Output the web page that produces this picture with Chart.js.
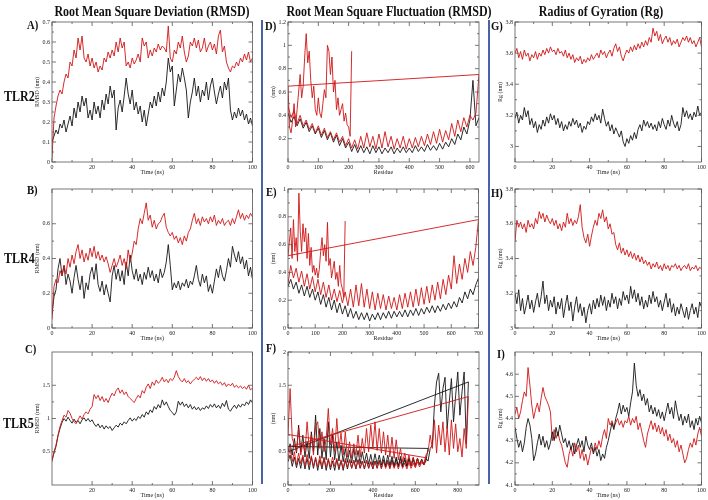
<!DOCTYPE html>
<html>
<head>
<meta charset="utf-8">
<script src="https://cdn.jsdelivr.net/npm/chart.js@4.4.0/dist/chart.umd.min.js"></script>
<style>
  body { margin: 0; width: 708px; height: 500px; background: #fff; position: relative; overflow: hidden; font-family: "Liberation Serif", serif; }
  canvas { position: absolute; }
  .lbl { position: absolute; font-weight: bold; color: #111; white-space: nowrap; line-height: 1; transform-origin: 0 0; z-index: 2; }
  .head { font-size: 15px; transform: translateX(-50%) scaleX(0.8); transform-origin: 50% 0; }
  .row { font-size: 15px; transform: scaleX(0.8); }
  .tag { font-size: 13px; transform: scaleX(0.82); }
  .sep { position: absolute; width: 2px; background: #4c62a8; top: 20px; height: 464px; }
</style>
</head>
<body>
<div class="lbl head" style="left:152px;top:4px">Root Mean Square Deviation (RMSD)</div>
<div class="lbl head" style="left:389px;top:4px">Root Mean Square Fluctuation (RMSD)</div>
<div class="lbl head" style="left:601px;top:4px">Radius of Gyration (Rg)</div>
<div class="lbl row" style="left:4px;top:89px">TLR2</div>
<div class="lbl row" style="left:4px;top:251px">TLR4</div>
<div class="lbl row" style="left:3px;top:416px">TLR5</div>
<div class="lbl tag" style="left:27px;top:18px">A)</div>
<div class="lbl tag" style="left:27px;top:183px">B)</div>
<div class="lbl tag" style="left:25px;top:342px">C)</div>
<div class="lbl tag" style="left:265px;top:19px">D)</div>
<div class="lbl tag" style="left:266px;top:185px">E)</div>
<div class="lbl tag" style="left:266px;top:341px">F)</div>
<div class="lbl tag" style="left:491px;top:19px">G)</div>
<div class="lbl tag" style="left:491px;top:186px">H)</div>
<div class="lbl tag" style="left:497px;top:347px">I)</div>
<div class="sep" style="left:261px"></div>
<div class="sep" style="left:488px"></div>
<script>
const timeNs = [0,1,2,3,4,5,6,7,8,9,10,11,12,13,14,15,16,17,18,19,20,21,22,23,24,25,26,27,28,29,30,31,32,33,34,35,36,37,38,39,40,41,42,43,44,45,46,47,48,49,50,51,52,53,54,55,56,57,58,59,60,61,62,63,64,65,66,67,68,69,70,71,72,73,74,75,76,77,78,79,80,81,82,83,84,85,86,87,88,89,90,91,92,93,94,95,96,97,98,99,100];

// RMSD (nm)
const rmsdTlr2Red = [
  0.02,0.22,0.28,0.33,0.36,0.34,0.40,0.44,0.42,0.50,
  0.48,0.56,0.52,0.62,0.56,0.63,0.52,0.50,0.54,0.48,
  0.52,0.47,0.50,0.45,0.48,0.46,0.52,0.50,0.55,0.52,
  0.56,0.53,0.60,0.55,0.62,0.57,0.60,0.48,0.50,0.47,
  0.52,0.49,0.51,0.54,0.50,0.62,0.58,0.60,0.52,0.56,
  0.53,0.57,0.55,0.59,0.56,0.58,0.57,0.55,0.68,0.52,
  0.50,0.56,0.54,0.60,0.57,0.63,0.55,0.50,0.53,0.60,
  0.58,0.62,0.57,0.61,0.55,0.57,0.62,0.55,0.58,0.60,
  0.56,0.59,0.54,0.63,0.66,0.55,0.58,0.50,0.47,0.45,
  0.48,0.47,0.50,0.48,0.52,0.50,0.54,0.51,0.55,0.50,0.52];
const rmsdTlr2Black = [
  0.10,0.13,0.16,0.14,0.19,0.17,0.21,0.15,0.19,0.23,
  0.18,0.27,0.22,0.30,0.25,0.33,0.28,0.32,0.22,0.26,
  0.21,0.30,0.24,0.28,0.22,0.31,0.26,0.34,0.29,0.38,
  0.32,0.36,0.16,0.27,0.31,0.25,0.33,0.42,0.34,0.29,
  0.36,0.26,0.30,0.24,0.28,0.20,0.26,0.18,0.24,0.30,
  0.27,0.33,0.28,0.35,0.30,0.37,0.33,0.40,0.52,0.45,
  0.48,0.28,0.36,0.44,0.40,0.47,0.42,0.36,0.22,0.30,
  0.35,0.42,0.33,0.38,0.30,0.36,0.33,0.40,0.31,0.38,
  0.42,0.35,0.29,0.34,0.38,0.32,0.40,0.36,0.42,0.26,
  0.21,0.25,0.22,0.27,0.23,0.26,0.21,0.24,0.19,0.22,0.18];
const rmsdTlr4Red = [
  0.05,0.24,0.28,0.26,0.33,0.30,0.36,0.31,0.40,0.35,
  0.42,0.37,0.44,0.48,0.40,0.45,0.38,0.43,0.39,0.46,
  0.41,0.47,0.40,0.44,0.39,0.42,0.38,0.41,0.37,0.32,
  0.36,0.40,0.35,0.38,0.42,0.36,0.40,0.34,0.45,0.38,
  0.43,0.50,0.48,0.57,0.63,0.60,0.66,0.72,0.62,0.65,
  0.58,0.62,0.57,0.60,0.61,0.64,0.66,0.58,0.55,0.53,
  0.55,0.51,0.53,0.49,0.52,0.48,0.53,0.50,0.55,0.57,
  0.62,0.66,0.60,0.63,0.59,0.64,0.61,0.63,0.60,0.64,
  0.61,0.65,0.59,0.62,0.60,0.63,0.59,0.61,0.62,0.59,
  0.63,0.60,0.64,0.68,0.63,0.66,0.62,0.65,0.63,0.66,0.64];
const rmsdTlr4Black = [
  0.08,0.18,0.22,0.34,0.40,0.30,0.36,0.25,0.31,0.27,
  0.20,0.29,0.36,0.28,0.22,0.30,0.17,0.26,0.22,0.31,
  0.35,0.28,0.37,0.25,0.21,0.27,0.19,0.25,0.20,0.15,
  0.30,0.36,0.28,0.34,0.27,0.33,0.25,0.38,0.30,0.42,
  0.33,0.28,0.34,0.27,0.31,0.25,0.32,0.28,0.35,0.29,
  0.33,0.27,0.31,0.26,0.34,0.29,0.32,0.38,0.48,0.36,
  0.22,0.26,0.23,0.27,0.22,0.26,0.24,0.28,0.23,0.27,
  0.25,0.30,0.36,0.28,0.24,0.31,0.26,0.30,0.21,0.25,
  0.20,0.27,0.34,0.29,0.36,0.30,0.27,0.33,0.40,0.35,
  0.47,0.42,0.38,0.44,0.37,0.41,0.34,0.39,0.30,0.35,0.28];
const rmsdTlr5Red = [
  0.35,0.50,0.60,0.75,0.88,0.97,1.05,1.02,1.12,1.08,
  1.00,0.95,0.92,0.98,1.04,0.99,1.06,1.10,1.07,1.14,
  1.18,1.36,1.30,1.35,1.27,1.33,1.25,1.30,1.24,1.32,
  1.38,1.34,1.42,1.46,1.38,1.43,1.36,1.40,1.33,1.30,
  1.27,1.24,1.30,1.35,1.31,1.42,1.38,1.47,1.52,1.45,
  1.55,1.50,1.58,1.53,1.56,1.62,1.55,1.59,1.54,1.60,
  1.57,1.62,1.72,1.63,1.58,1.55,1.60,1.54,1.57,1.52,
  1.56,1.59,1.62,1.58,1.63,1.57,1.61,1.56,1.60,1.55,
  1.58,1.53,1.57,1.52,1.55,1.50,1.54,1.48,1.52,1.49,
  1.53,1.47,1.50,1.46,1.49,1.45,1.48,1.44,1.50,1.43,1.46];
const rmsdTlr5Black = [
  0.38,0.48,0.58,0.74,0.85,0.94,1.00,0.96,1.02,0.97,
  0.93,0.99,0.94,0.97,0.92,0.98,1.01,0.96,1.00,0.95,
  0.98,0.92,0.88,0.92,0.86,0.90,0.84,0.89,0.85,0.88,
  0.82,0.86,0.90,0.87,0.93,0.90,0.95,0.92,0.97,1.01,
  0.96,1.00,0.97,1.03,1.00,1.06,1.02,1.10,1.06,1.13,
  1.09,1.18,1.14,1.21,1.16,1.28,1.20,1.25,1.18,1.12,
  1.09,1.05,1.10,1.26,1.20,1.25,1.18,1.22,1.16,1.21,
  1.14,1.18,1.13,1.17,1.12,1.16,1.14,1.19,1.15,1.21,
  1.17,1.22,1.16,1.20,1.15,1.23,1.18,1.27,1.14,1.11,
  1.16,1.20,1.15,1.21,1.17,1.22,1.19,1.25,1.21,1.28,1.24];

// Rg (nm)
const rgTlr2Red = [
  3.60,3.63,3.57,3.61,3.56,3.62,3.58,3.60,3.55,3.59,
  3.57,3.61,3.56,3.60,3.58,3.62,3.59,3.63,3.60,3.64,
  3.61,3.62,3.59,3.63,3.60,3.61,3.58,3.62,3.57,3.60,
  3.56,3.59,3.54,3.57,3.55,3.58,3.53,3.56,3.54,3.57,
  3.55,3.59,3.56,3.58,3.60,3.57,3.62,3.59,3.61,3.57,
  3.60,3.62,3.58,3.63,3.66,3.61,3.64,3.58,3.55,3.59,
  3.62,3.60,3.64,3.61,3.65,3.62,3.66,3.63,3.67,3.64,
  3.68,3.65,3.70,3.67,3.76,3.71,3.74,3.68,3.72,3.66,
  3.69,3.71,3.67,3.70,3.65,3.68,3.66,3.69,3.64,3.67,
  3.70,3.68,3.71,3.67,3.70,3.66,3.68,3.64,3.67,3.70,3.64];
const rgTlr2Black = [
  3.18,3.22,3.15,3.20,3.17,3.25,3.19,3.23,3.14,3.18,
  3.12,3.16,3.09,3.14,3.11,3.17,3.13,3.19,3.15,3.21,
  3.17,3.20,3.14,3.18,3.12,3.16,3.10,3.14,3.11,3.16,
  3.13,3.18,3.14,3.17,3.12,3.15,3.09,3.13,3.11,3.16,
  3.14,3.19,3.16,3.21,3.17,3.20,3.15,3.24,3.18,3.13,
  3.16,3.10,3.14,3.08,3.12,3.09,3.06,3.10,3.03,3.00,
  3.05,3.02,3.07,3.04,3.09,3.05,3.11,3.14,3.10,3.17,
  3.13,3.16,3.12,3.15,3.11,3.14,3.10,3.16,3.12,3.18,
  3.14,3.11,3.17,3.13,3.20,3.15,3.12,3.16,3.10,3.14,
  3.25,3.19,3.23,3.18,3.21,3.17,3.22,3.19,3.26,3.20,3.22];
const rgTlr4Red = [
  3.50,3.62,3.58,3.61,3.57,3.60,3.55,3.62,3.58,3.60,
  3.57,3.63,3.60,3.67,3.63,3.66,3.61,3.65,3.62,3.60,
  3.63,3.59,3.62,3.57,3.60,3.56,3.61,3.58,3.66,3.60,
  3.63,3.59,3.62,3.60,3.64,3.71,3.58,3.52,3.49,3.54,
  3.47,3.53,3.58,3.62,3.59,3.66,3.63,3.68,3.61,3.64,
  3.57,3.60,3.54,3.55,3.48,3.45,3.49,3.43,3.46,3.42,
  3.45,3.41,3.44,3.40,3.43,3.39,3.42,3.38,3.41,3.37,
  3.39,3.36,3.38,3.34,3.37,3.35,3.38,3.34,3.36,3.33,
  3.37,3.34,3.36,3.33,3.36,3.35,3.37,3.34,3.36,3.33,
  3.35,3.36,3.34,3.37,3.33,3.35,3.34,3.36,3.33,3.35,3.34];
const rgTlr4Black = [
  3.20,3.14,3.22,3.10,3.17,3.08,3.13,3.19,3.11,3.16,
  3.09,3.15,3.20,3.12,3.18,3.27,3.14,3.19,3.10,3.16,
  3.12,3.18,3.08,3.15,3.11,3.17,3.06,3.13,3.19,3.10,
  3.15,3.04,3.12,3.18,3.09,3.14,3.07,3.12,3.03,3.10,
  3.14,3.08,3.16,3.11,3.17,3.12,3.19,3.13,3.18,3.10,
  3.16,3.12,3.20,3.14,3.18,3.11,3.17,3.13,3.21,3.16,
  3.19,3.14,3.24,3.17,3.22,3.15,3.20,3.13,3.18,3.11,
  3.16,3.12,3.19,3.14,3.21,3.15,3.18,3.12,3.16,3.10,
  3.15,3.20,3.12,3.17,3.09,3.14,3.07,3.12,3.08,3.14,
  3.10,3.06,3.12,3.05,3.10,3.14,3.08,3.12,3.06,3.15,3.12];
const rgTlr5Red = [
  4.42,4.45,4.40,4.43,4.48,4.52,4.50,4.63,4.55,4.46,
  4.40,4.44,4.47,4.43,4.49,4.54,4.50,4.48,4.46,4.43,
  4.30,4.35,4.31,4.34,4.30,4.28,4.24,4.20,4.18,4.24,
  4.27,4.23,4.29,4.25,4.28,4.22,4.26,4.21,4.24,4.19,
  4.23,4.27,4.25,4.29,4.26,4.30,4.27,4.32,4.35,4.31,
  4.40,4.37,4.39,4.36,4.38,4.40,4.37,4.39,4.36,4.39,
  4.38,4.41,4.37,4.40,4.38,4.41,4.35,4.38,4.34,4.30,
  4.27,4.33,4.36,4.39,4.35,4.38,4.34,4.37,4.33,4.36,
  4.32,4.35,4.30,4.33,4.29,4.31,4.27,4.30,4.25,4.28,
  4.24,4.20,4.22,4.26,4.29,4.27,4.31,4.28,4.33,4.36,4.32];
const rgTlr5Black = [
  4.36,4.31,4.27,4.30,4.25,4.29,4.36,4.40,4.37,4.31,
  4.21,4.24,4.29,4.33,4.28,4.32,4.27,4.30,4.26,4.29,
  4.34,4.30,4.36,4.32,4.37,4.33,4.29,4.31,4.27,4.30,
  4.26,4.29,4.24,4.28,4.31,4.27,4.30,4.25,4.32,4.28,
  4.26,4.29,4.24,4.27,4.23,4.26,4.21,4.24,4.22,4.27,
  4.30,4.34,4.38,4.35,4.40,4.43,4.47,4.42,4.46,4.43,
  4.45,4.41,4.47,4.52,4.65,4.55,4.50,4.53,4.48,4.51,
  4.46,4.49,4.43,4.46,4.42,4.45,4.41,4.44,4.40,4.43,
  4.39,4.43,4.47,4.42,4.45,4.40,4.48,4.43,4.39,4.42,
  4.37,4.41,4.38,4.42,4.36,4.39,4.35,4.40,4.37,4.41,4.38];

// RMSF residues
const res0to630 = [0,10,20,30,40,50,60,70,80,90,100,110,120,130,140,150,160,170,180,190,200,210,220,230,240,250,260,270,280,290,300,310,320,330,340,350,360,370,380,390,400,410,420,430,440,450,460,470,480,490,500,510,520,530,540,550,560,570,580,590,600,610,620,630];
const res0to700 = [0,10,20,30,40,50,60,70,80,90,100,110,120,130,140,150,160,170,180,190,200,210,220,230,240,250,260,270,280,290,300,310,320,330,340,350,360,370,380,390,400,410,420,430,440,450,460,470,480,490,500,510,520,530,540,550,560,570,580,590,600,610,620,630,640,650,660,670,680,690,700];
const res0to850 = [0,10,20,30,40,50,60,70,80,90,100,110,120,130,140,150,160,170,180,190,200,210,220,230,240,250,260,270,280,290,300,310,320,330,340,350,360,370,380,390,400,410,420,430,440,450,460,470,480,490,500,510,520,530,540,550,560,570,580,590,600,610,620,630,640,650,660,670,680,690,700,710,720,730,740,750,760,770,780,790,800,810,820,830,840,850];
const res0to660 = [0,10,20,30,40,50,60,70,80,90,100,110,120,130,140,150,160,170,180,190,200,210,220,230,240,250,260,270,280,290,300,310,320,330,340,350,360,370,380,390,400,410,420,430,440,450,460,470,480,490,500,510,520,530,540,550,560,570,580,590,600,610,620,630,640,650,660];
const res0to650 = [0,10,20,30,40,50,60,70,80,90,100,110,120,130,140,150,160,170,180,190,200,210,220,230,240,250,260,270,280,290,300,310,320,330,340,350,360,370,380,390,400,410,420,430,440,450,460,470,480,490,500,510,520,530,540,550,560,570,580,590,600,610,620,630,640,650];
const res0to210 = [0,5,10,15,20,25,30,35,40,45,50,55,60,65,70,75,80,85,90,95,100,105,110,115,120,125,130,135,140,145,150,155,160,165,170,175,180,185,190,195,200,205,210];

// RMSF (nm)
const rmsfTlr2Black = [
  0.42,0.34,0.39,0.31,0.37,0.29,0.34,0.26,0.31,0.24,
  0.29,0.21,0.27,0.19,0.25,0.17,0.23,0.14,0.20,0.12,
  0.17,0.09,0.15,0.08,0.14,0.08,0.13,0.07,0.14,0.08,
  0.13,0.07,0.12,0.08,0.13,0.07,0.12,0.08,0.13,0.08,
  0.12,0.08,0.14,0.09,0.13,0.09,0.15,0.10,0.14,0.10,
  0.16,0.11,0.17,0.13,0.20,0.15,0.24,0.19,0.30,0.24,
  0.36,0.70,0.31,0.38];
const rmsfTlr2RedA = [
  0.48,0.38,0.44,0.33,0.40,0.31,0.36,0.28,0.33,0.25,
  0.31,0.23,0.29,0.21,0.26,0.19,0.25,0.17,0.22,0.14,
  0.20,0.12,0.19,0.11,0.22,0.12,0.25,0.13,0.22,0.11,
  0.24,0.12,0.26,0.13,0.22,0.11,0.20,0.12,0.22,0.11,
  0.20,0.12,0.21,0.13,0.22,0.14,0.24,0.15,0.26,0.16,
  0.28,0.17,0.27,0.19,0.33,0.22,0.36,0.26,0.38,0.30,
  0.40,0.36,0.42,0.75];
const rmsfTlr2RedB = [
  0.65,0.30,0.25,0.35,0.50,0.30,0.45,0.60,0.75,0.55,
  0.65,0.90,1.10,0.85,0.95,0.70,0.55,0.65,0.45,0.40,
  0.55,0.42,0.38,0.50,0.62,0.55,1.00,0.95,0.75,0.90,
  0.60,0.70,0.45,0.55,0.40,0.45,0.50,0.35,0.42,0.32,
  0.30,0.22,0.95];
const rmsfTlr4Black = [
  0.30,0.35,0.28,0.33,0.25,0.31,0.23,0.30,0.22,0.28,
  0.20,0.26,0.17,0.24,0.15,0.22,0.13,0.20,0.11,0.18,
  0.10,0.16,0.08,0.14,0.07,0.12,0.06,0.11,0.06,0.11,
  0.05,0.10,0.06,0.11,0.06,0.11,0.07,0.12,0.07,0.12,
  0.08,0.12,0.08,0.13,0.08,0.13,0.09,0.14,0.09,0.14,
  0.10,0.15,0.11,0.16,0.11,0.16,0.12,0.17,0.13,0.18,
  0.14,0.19,0.15,0.22,0.18,0.26,0.21,0.28,0.24,0.31,0.36];
const rmsfTlr4RedA = [
  0.32,0.45,0.36,0.43,0.33,0.41,0.30,0.39,0.28,0.37,
  0.26,0.35,0.24,0.33,0.22,0.31,0.20,0.28,0.19,0.27,
  0.18,0.26,0.16,0.28,0.15,0.31,0.16,0.32,0.15,0.28,
  0.14,0.26,0.13,0.25,0.14,0.24,0.13,0.23,0.14,0.22,
  0.13,0.24,0.14,0.25,0.15,0.26,0.15,0.28,0.16,0.29,
  0.17,0.30,0.18,0.31,0.20,0.33,0.21,0.35,0.24,0.38,
  0.28,0.52,0.32,0.46,0.35,0.50,0.40,0.55,0.45,0.58,0.78];
const rmsfTlr4RedB = [
  0.52,0.62,0.72,0.50,0.78,0.55,0.65,0.48,0.97,0.70,
  0.55,0.75,0.62,0.72,0.50,0.68,0.45,0.58,0.40,0.45,
  0.38,0.43,0.36,0.42,0.55,0.65,0.52,0.60,0.48,0.76,
  0.45,0.50,0.36,0.42,0.48,0.35,0.40,0.30,0.45,0.32,
  0.28,0.22,0.77];
const rmsfTlr5BlackA = [
  0.35,0.45,0.28,0.42,0.26,0.40,0.25,0.42,0.24,0.40,
  0.23,0.42,0.25,0.40,0.22,0.38,0.24,0.40,0.22,0.38,
  0.23,0.36,0.22,0.38,0.23,0.36,0.22,0.37,0.24,0.38,
  0.25,0.37,0.24,0.38,0.25,0.36,0.24,0.37,0.25,0.35,
  0.24,0.36,0.25,0.37,0.26,0.38,0.27,0.37,0.26,0.38,
  0.27,0.39,0.28,0.40,0.27,0.38,0.28,0.40,0.29,0.38,
  0.28,0.40,0.30,0.38,0.31,0.40,0.36,0.55,0.60,1.20,
  1.55,1.68,1.10,1.45,1.62,0.85,1.25,1.60,0.95,1.35,
  1.70,1.05,1.40,1.70,0.62,1.55];
const rmsfTlr5BlackB = [
  0.50,0.62,0.45,0.70,0.48,0.90,0.50,0.75,0.42,0.65,
  0.40,0.80,0.50,1.05,0.45,0.85,0.40,0.70,0.38,0.95,
  0.42,0.75,0.38,0.65,0.36,0.60,0.35,0.55,0.34,0.52,
  0.33,0.55,0.34,0.52,0.32,0.50,0.33,0.48,0.31,0.46,
  0.30,0.47,0.31,0.45,0.30,0.44,0.29,0.45,0.30,0.43,
  0.29,0.42,0.28,0.43,0.29,0.41,0.28,0.40,0.29,0.41,
  0.30,0.40,0.31,0.39,0.30,0.36,0.55];
const rmsfTlr5RedA = [
  0.40,0.55,0.35,0.50,0.30,0.48,0.32,0.45,0.28,0.46,
  0.30,0.44,0.28,0.42,0.27,0.44,0.28,0.42,0.26,0.40,
  0.27,0.42,0.28,0.40,0.26,0.38,0.25,0.40,0.27,0.38,
  0.26,0.37,0.25,0.38,0.26,0.36,0.25,0.37,0.26,0.35,
  0.25,0.36,0.26,0.35,0.24,0.36,0.25,0.34,0.24,0.35,
  0.25,0.34,0.24,0.35,0.25,0.33,0.24,0.34,0.25,0.33,
  0.26,0.35,0.27,0.34,0.30,0.41];
const rmsfTlr5RedB = [
  0.76,1.45,0.70,0.60,0.50,0.85,0.45,0.62,0.50,0.95,
  0.55,0.75,0.45,0.88,0.95,0.55,0.80,0.50,0.70,1.15,
  0.60,0.85,0.50,1.00,0.55,0.78,0.45,0.80,0.42,0.65,
  0.40,0.62,0.45,0.75,0.42,0.70,0.48,0.85,0.50,0.90,
  0.55,0.95,0.52,0.85,0.48,0.80,0.45,0.75,0.42,0.72,
  0.40,0.68,0.38,0.55,0.35,0.48,0.32,0.45,0.30,0.42,
  0.28,0.40,0.30,0.38,0.32,0.45,0.50,0.75,0.55,0.98,
  0.48,0.90,0.60,0.95,0.50,0.88,0.45,0.98,0.55,0.92,
  0.50,0.70,0.42,0.85,0.55,1.33];
// last trace points that jump back to the first residue
const rmsfTlr5BlackEnd = [0.58];
const rmsfTlr5RedEnd = [0.57];

// tick labels
const timeTicks = [0, 20, 40, 60, 80, 100];
const timeTicksC = [20, 40, 60, 80, 100];
const rmsdTicksA = [0, 0.1, 0.2, 0.3, 0.4, 0.5, 0.6, 0.7];
const rmsdTicksB = [0, 0.2, 0.4, 0.6];
const rmsdTicksC = [0.5, 1, 1.5];
const resTicksD = [0, 100, 200, 300, 400, 500, 600];
const resTicksE = [0, 100, 200, 300, 400, 500, 600, 700];
const resTicksF = [0, 200, 400, 600, 800];
const rmsfTicksD = [0.2, 0.4, 0.6, 0.8, 1, 1.2];
const rmsfTicksE = [0, 0.2, 0.4, 0.6, 0.8, 1];
const rmsfTicksF = [0, 0.5, 1, 1.5, 2];
const rgTicksG = [3, 3.2, 3.4, 3.6, 3.8];
const rgTicksH = [3, 3.2, 3.4, 3.6, 3.8];
const rgTicksI = [4.1, 4.2, 4.3, 4.4, 4.5, 4.6];

const RED = '#d01515';
const BLACK = '#151515';
const FONT = { family: 'Liberation Serif', size: 6 };

function pts(xs, ys) {
  return ys.map((v, i) => ({ x: xs[i], y: v }));
}

// box with inward major / minor ticks on all four sides
const frame = {
  id: 'frame',
  afterDraw(chart) {
    const { ctx, chartArea: a, scales } = chart;
    ctx.save();
    ctx.strokeStyle = '#555';
    ctx.lineWidth = 0.8;
    ctx.strokeRect(a.left, a.top, a.right - a.left, a.bottom - a.top);
    ctx.beginPath();
    const mark = (s, v, len) => {
      const p = s.getPixelForValue(v);
      if (s.isHorizontal()) {
        ctx.moveTo(p, a.bottom); ctx.lineTo(p, a.bottom - len);
        ctx.moveTo(p, a.top); ctx.lineTo(p, a.top + len);
      } else {
        ctx.moveTo(a.left, p); ctx.lineTo(a.left + len, p);
        ctx.moveTo(a.right, p); ctx.lineTo(a.right - len, p);
      }
    };
    [scales.x, scales.y].forEach(s => {
      const vals = s.ticks.map(t => t.value);
      vals.forEach((v, i) => {
        mark(s, v, 4);
        if (i + 1 < vals.length) mark(s, (v + vals[i + 1]) / 2, 2);
      });
    });
    ctx.stroke();
    ctx.restore();
  }
};

function axis(c, horiz) {
  return {
    type: 'linear',
    min: c.min,
    max: c.max,
    grid: { display: false, drawTicks: false },
    border: { display: false },
    afterBuildTicks: s => { s.ticks = c.ticks.map(v => ({ value: v })); },
    afterFit: s => { if (horiz) s.height = 14; else s.width = 18; },
    ticks: {
      font: FONT, color: '#222', padding: 2, maxRotation: 0, autoSkip: false,
      callback: v => String(+Number(v).toFixed(2))
    },
    title: { display: true, text: c.title, font: FONT, color: '#222', padding: 0 }
  };
}

function panel(box, xc, yc, sets) {
  const [L, T, R, B] = box;
  const cv = document.createElement('canvas');
  cv.width = R - L + 24;
  cv.height = B - T + 20;
  cv.style.left = (L - 18) + 'px';
  cv.style.top = (T - 6) + 'px';
  document.body.appendChild(cv);
  new Chart(cv, {
    type: 'scatter',
    data: {
      datasets: sets.map(s => ({
        data: s.data, borderColor: s.color, backgroundColor: s.color,
        borderWidth: 0.9, showLine: true, pointRadius: 0, tension: 0
      }))
    },
    options: {
      responsive: false,
      animation: false,
      devicePixelRatio: 1,
      layout: { padding: { top: 6, right: 6, left: 0, bottom: 0 } },
      plugins: { legend: { display: false }, tooltip: { enabled: false } },
      scales: { x: axis(xc, true), y: axis(yc, false) }
    },
    plugins: [frame]
  });
}

const timeAxis = { min: 0, max: 100, ticks: timeTicks, title: 'Time (ns)' };

panel([52, 22, 253, 162], timeAxis,
  { min: 0, max: 0.7, ticks: rmsdTicksA, title: 'RMSD (nm)' },
  [{ data: pts(timeNs, rmsdTlr2Red), color: RED }, { data: pts(timeNs, rmsdTlr2Black), color: BLACK }]);
panel([52, 189, 253, 328], timeAxis,
  { min: 0, max: 0.8, ticks: rmsdTicksB, title: 'RMSD (nm)' },
  [{ data: pts(timeNs, rmsdTlr4Red), color: RED }, { data: pts(timeNs, rmsdTlr4Black), color: BLACK }]);
panel([52, 352, 253, 485], { min: 0, max: 100, ticks: timeTicksC, title: 'Time (ns)' },
  { min: 0, max: 2, ticks: rmsdTicksC, title: 'RMSD (nm)' },
  [{ data: pts(timeNs, rmsdTlr5Red), color: RED }, { data: pts(timeNs, rmsdTlr5Black), color: BLACK }]);

panel([288, 22, 479, 162], { min: 0, max: 630, ticks: resTicksD, title: 'Residue' },
  { min: 0, max: 1.2, ticks: rmsfTicksD, title: '(nm)' },
  [{ data: pts(res0to630, rmsfTlr2RedA).concat(pts(res0to210, rmsfTlr2RedB)), color: RED },
   { data: pts(res0to630, rmsfTlr2Black), color: BLACK }]);
panel([288, 189, 479, 328], { min: 0, max: 700, ticks: resTicksE, title: 'Residue' },
  { min: 0, max: 1, ticks: rmsfTicksE, title: '(nm)' },
  [{ data: pts(res0to700, rmsfTlr4RedA).concat(pts(res0to210, rmsfTlr4RedB)), color: RED },
   { data: pts(res0to700, rmsfTlr4Black), color: BLACK }]);
panel([288, 352, 479, 485], { min: 0, max: 900, ticks: resTicksF, title: 'Residue' },
  { min: 0, max: 2, ticks: rmsfTicksF, title: '(nm)' },
  [{ data: pts(res0to650, rmsfTlr5RedA).concat(pts(res0to850, rmsfTlr5RedB), pts([0], rmsfTlr5RedEnd)), color: RED },
   { data: pts(res0to850, rmsfTlr5BlackA).concat(pts(res0to660, rmsfTlr5BlackB), pts([0], rmsfTlr5BlackEnd)), color: BLACK }]);

panel([515, 22, 702, 162], timeAxis,
  { min: 2.9, max: 3.8, ticks: rgTicksG, title: 'Rg (nm)' },
  [{ data: pts(timeNs, rgTlr2Red), color: RED }, { data: pts(timeNs, rgTlr2Black), color: BLACK }]);
panel([515, 189, 702, 328], timeAxis,
  { min: 3, max: 3.8, ticks: rgTicksH, title: 'Rg (nm)' },
  [{ data: pts(timeNs, rgTlr4Red), color: RED }, { data: pts(timeNs, rgTlr4Black), color: BLACK }]);
panel([515, 352, 702, 485], timeAxis,
  { min: 4.1, max: 4.7, ticks: rgTicksI, title: 'Rg (nm)' },
  [{ data: pts(timeNs, rgTlr5Black), color: BLACK }, { data: pts(timeNs, rgTlr5Red), color: RED }]);
</script>
</body>
</html>
